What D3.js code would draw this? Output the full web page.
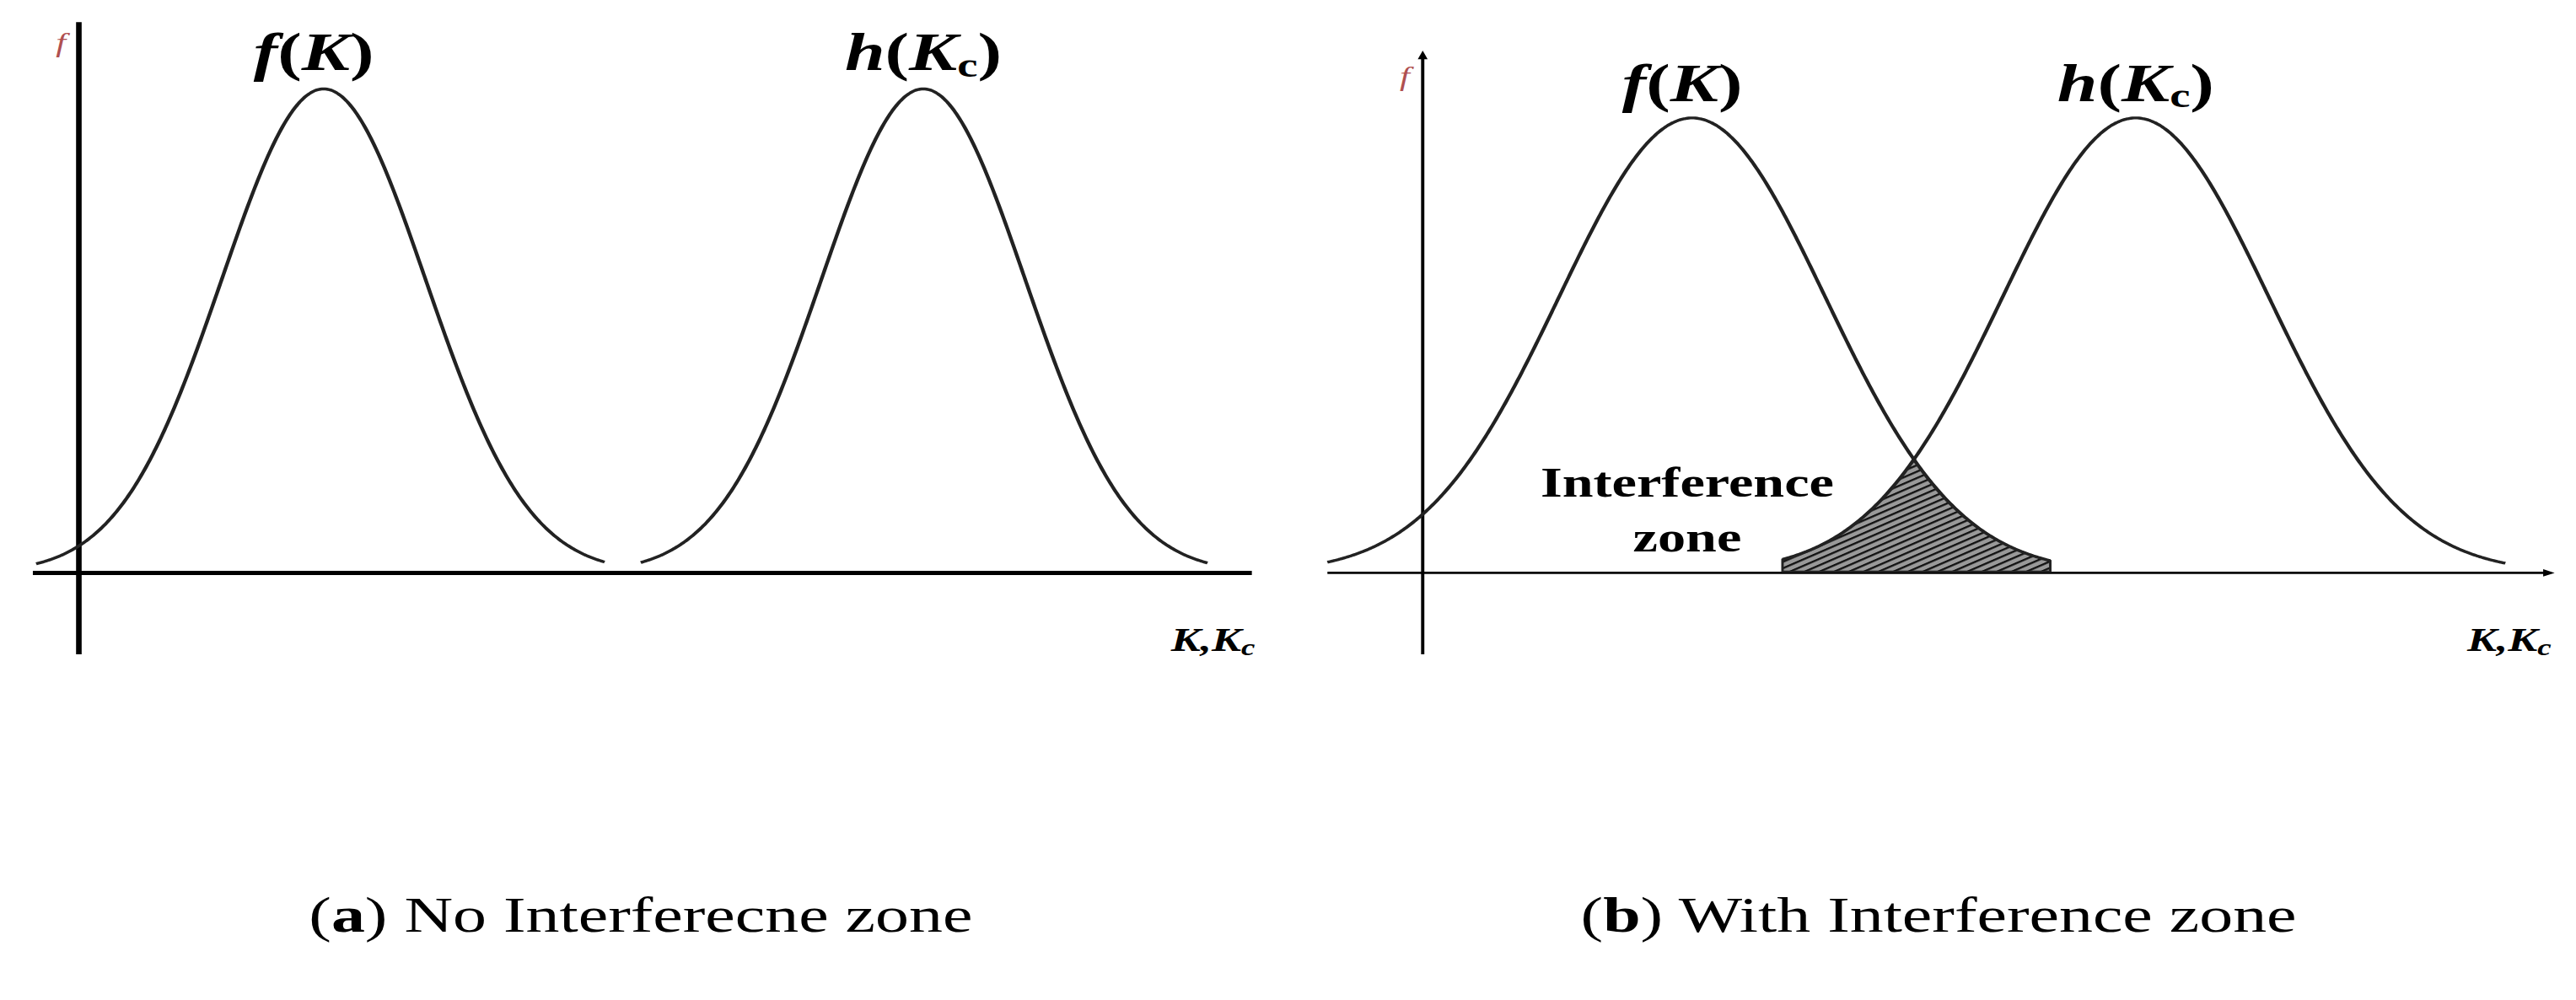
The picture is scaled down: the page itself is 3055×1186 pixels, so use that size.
<!DOCTYPE html>
<html><head><meta charset="utf-8">
<script src="https://cdn.jsdelivr.net/npm/d3@7"></script>
<style>html,body{margin:0;background:#fff}svg{display:block}</style>
</head><body>
<svg id="c" width="3055" height="1186" viewBox="0 0 1568 810" preserveAspectRatio="none"></svg>
<script>
// curve parameters: [mean, sd, amplitude, from, to]
const panelACurves = [[2.98,1.24,1.0,-0.52,6.4],[10.28,1.24,1.0,6.84,13.74]];
const panelBCurves = [[3.28,1.62,0.94,-1.16,7.64],[8.68,1.62,0.94,4.38,13.18]];
const curveLabels = ["f(K)","h(Kc)"];
const captions = ["No Interferecne zone","With Interference zone"];
const captionLetters = ["a","b"];
const zoneRange = [4.38,7.64];

const svg = d3.select("#c");
const defs = svg.append("defs");
const pat = defs.append("pattern").attr("id","hatch").attr("patternUnits","userSpaceOnUse")
  .attr("width",4.5).attr("height",4.5).attr("patternTransform","rotate(60)");
pat.append("rect").attr("width",4.5).attr("height",4.5).attr("fill","#999");
pat.append("line").attr("x1",0).attr("y1",0).attr("x2",0).attr("y2",4.5).attr("stroke","#111").attr("stroke-width",3);

const gauss=(c,x)=>c[2]*Math.exp(-((x-c[0])**2)/(2*c[1]*c[1]));

function panel(o){
  const x=d3.scaleLinear().domain([0,1]).range([o.ox,o.ox+50]);
  const y=d3.scaleLinear().domain([0,1]).range([464,72]);
  const g=svg.append("g");
  g.append("line").attr("x1",x(o.xmin)).attr("x2",x(o.xmax)).attr("y1",y(0)).attr("y2",y(0))
    .attr("stroke","#000").attr("stroke-width",o.aw);
  g.append("line").attr("x1",x(0)).attr("x2",x(0)).attr("y1",o.ytop).attr("y2",530)
    .attr("stroke","#000").attr("stroke-width",o.aw);
  if(o.arrow){
    g.append("path").attr("d",`M${x(o.xmax)+4},${y(0)} l-7,-3 l0,6z`).attr("fill","#000");
    g.append("path").attr("d",`M${x(0)},${o.ytop-4} l-3,7 l6,0z`).attr("fill","#000");
  }
  const line=d3.line().x(d=>x(d[0])).y(d=>y(d[1])).curve(d3.curveBasis);
  if(o.zone){
    const pts=d3.range(zoneRange[0],zoneRange[1]+0.001,0.02).map(v=>[v,Math.min(gauss(o.curves[0],v),gauss(o.curves[1],v))]);
    const area=d3.area().x(d=>x(d[0])).y0(y(0)-1).y1(d=>y(d[1]));
    g.append("path").attr("d",area(pts)).attr("fill","url(#hatch)").attr("stroke","#222").attr("stroke-width",1.5);
  }
  o.curves.forEach((c,i)=>{
    const pts=d3.range(c[3],c[4]+0.001,0.02).map(v=>[v,gauss(c,v)]);
    g.append("path").attr("d",line(pts)).attr("fill","none").attr("stroke","#222").attr("stroke-width",2.3);
    const t=g.append("text").attr("x",x(c[0])-(i==0?6:0)).attr("y",o.ly).attr("text-anchor","middle")
      .attr("font-family","Liberation Serif").attr("font-weight","bold").attr("font-size",44);
    if(i==0){t.append("tspan").attr("font-style","italic").text("f");t.append("tspan").text("(");
      t.append("tspan").attr("font-style","italic").text("K");t.append("tspan").text(")");}
    else{t.append("tspan").attr("font-style","italic").text("h");t.append("tspan").text("(");
      t.append("tspan").attr("font-style","italic").text("K");t.append("tspan").attr("font-size",28).attr("dy",5).text("c");
      t.append("tspan").attr("dy",-5).text(")");}
  });
  g.append("text").attr("x",x(0)-14).attr("y",o.ytop+24).attr("font-family","Liberation Serif")
    .attr("font-style","italic").attr("font-size",22).attr("fill","#b05050").text("f");
  const kt=g.append("text").attr("x",x(o.xmax)+2).attr("y",527).attr("text-anchor","end")
    .attr("font-family","Liberation Serif").attr("font-weight","bold").attr("font-style","italic").attr("font-size",27);
  kt.append("tspan").text("K,K");kt.append("tspan").attr("font-size",19).attr("dy",4).text("c");
  const cap=g.append("text").attr("x",o.capx).attr("y",755).attr("text-anchor","middle")
    .attr("font-family","Liberation Serif").attr("font-size",41);
  cap.append("tspan").text("(");cap.append("tspan").attr("font-weight","bold").text(o.letter);
  cap.append("tspan").text(") "+o.caption);
  if(o.zone){
    ["Interference","zone"].forEach((s,k)=>g.append("text").attr("x",1027).attr("y",402+k*45)
      .attr("text-anchor","middle").attr("font-family","Liberation Serif").attr("font-weight","bold")
      .attr("font-size",34).text(s));
  }
}
panel({ox:48,xmin:-0.56,xmax:14.28,ytop:18,aw:3.4,curves:panelACurves,ly:57,capx:390,letter:captionLetters[0],caption:captions[0]});
panel({ox:866,xmin:-1.16,xmax:13.7,ytop:45,aw:2,arrow:true,curves:panelBCurves,ly:82,capx:1180,letter:captionLetters[1],caption:captions[1],zone:true});
</script></body></html>
